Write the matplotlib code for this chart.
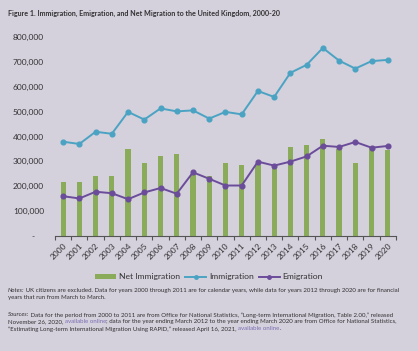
import numpy as np
import matplotlib.pyplot as plt
from matplotlib.patches import Patch
from matplotlib.lines import Line2D
from matplotlib.ticker import FuncFormatter, MultipleLocator

plt.rcParams['font.family'] = ['Lato', 'DejaVu Sans']

years = [str(y) for y in range(2000, 2021)]
net_immigration = [219000, 219000, 241000, 240000, 348000, 293000, 321000, 330000, 248000, 242000,
                   293000, 285000, 285000, 280000, 358000, 367000, 391000, 348000, 295000, 352000, 346000]
immigration = [379000, 370000, 419000, 411000, 499000, 468000, 513000, 501000, 505000, 472000,
               499000, 489000, 583000, 559000, 656000, 688000, 756000, 705000, 673000, 703000, 708000]
emigration = [160000, 151000, 178000, 172000, 148000, 175000, 193000, 170000, 256000, 230000,
              203000, 203000, 299000, 283000, 299000, 320000, 363000, 358000, 378000, 355000, 362000]

bg = '#d4d0dc'
green = '#8aac5a'
blue = '#4ba3c3'
purple = '#6b4c9a'
txt = '#333333'
link = '#7b6fb3'

fig = plt.figure(figsize=(4.18, 3.51), dpi=100, facecolor=bg)
ax = fig.add_axes([0.1316, 0.3276, 0.8155, 0.567], facecolor=bg)

x = np.arange(len(years))
ax.bar(x, net_immigration, width=0.32, color=green, zorder=2)
ax.plot(x, immigration, color=blue, lw=1.4, marker='o', markersize=3.4, zorder=3)
ax.plot(x, emigration, color=purple, lw=1.4, marker='o', markersize=3.4, zorder=3)

ax.set_xlim(-0.5, len(years) - 0.5)
ax.set_ylim(0, 800000)
ax.yaxis.set_major_locator(MultipleLocator(100000))
ax.yaxis.set_major_formatter(FuncFormatter(lambda v, p: '-    ' if v == 0 else f'{int(v):,}'))
ax.tick_params(axis='y', length=0, labelsize=6, labelcolor=txt, pad=8)

ax.set_xticks(x)
ax.set_xticklabels(years, rotation=45, ha='right', rotation_mode='anchor')
ax.set_xticks(np.arange(-0.5, len(years)), minor=True)
ax.tick_params(axis='x', which='major', length=0, labelsize=6, labelcolor=txt, pad=4)
ax.tick_params(axis='x', which='minor', length=3, color='#555555', width=0.8)

for s in ['top', 'left', 'right']:
    ax.spines[s].set_visible(False)
ax.spines['bottom'].set_color('#555555')
ax.spines['bottom'].set_linewidth(0.8)

handles = [Patch(facecolor=green, edgecolor='none'),
           Line2D([], [], color=blue, lw=1.4, marker='o', markersize=2.5),
           Line2D([], [], color=purple, lw=1.4, marker='o', markersize=2.5)]
fig.legend(handles, ['Net Immigration', 'Immigration', 'Emigration'], loc='center',
           bbox_to_anchor=(0.5, 0.211), ncol=3, frameon=False, fontsize=6.1,
           handlelength=2.5, handleheight=0.55, handletextpad=0.3, columnspacing=0.6,
           labelcolor=txt)

fig.text(0.019, 0.963, 'Figure 1. Immigration, Emigration, and Net Migration to the United Kingdom, 2000-20',
         fontsize=5.1, fontweight='bold', color=txt, va='center')

renderer = fig.canvas.get_renderer()


def write_line(y, pieces, x0=0.019):
    # place text pieces one after another on one line
    xpos = x0
    for s, style, color in pieces:
        t = fig.text(xpos, y, s, fontsize=4.4, style=style, color=color, va='center')
        w = t.get_window_extent(renderer).width / fig.bbox.width
        xpos += w


write_line(0.171, [('Notes:', 'italic', txt),
                   (' UK citizens are excluded. Data for years 2000 through 2011 are for calendar years, while data for years 2012 through 2020 are for financial', 'normal', txt)])
write_line(0.151, [('years that run from March to March.', 'normal', txt)])
write_line(0.103, [('Sources:', 'italic', txt),
                   (' Data for the period from 2000 to 2011 are from Office for National Statistics, \u201cLong-term International Migration, Table 2.00,\u201d released', 'normal', txt)])
write_line(0.083, [('November 26, 2020, ', 'normal', txt), ('available online', 'normal', link),
                   ('; data for the year ending March 2012 to the year ending March 2020 are from Office for National Statistics,', 'normal', txt)])
write_line(0.063, [('\u201cEstimating Long-term International Migration Using RAPID,\u201d released April 16, 2021, ', 'normal', txt),
                   ('available online', 'normal', link), ('.', 'normal', txt)])

fig.savefig('out.png', dpi=100, facecolor=bg)
